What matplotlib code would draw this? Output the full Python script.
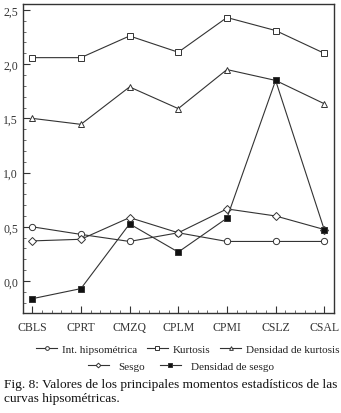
import numpy as np
import matplotlib as mpl
mpl.use("Agg")
import matplotlib.pyplot as plt
from matplotlib.ticker import MultipleLocator, FuncFormatter

mpl.rcParams["font.family"] = ["Liberation Serif", "DejaVu Serif"]

cuencas = ["CBLS", "CPRT", "CMZQ", "CPLM", "CPMI", "CSLZ", "CSAL"]
int_hipso = [0.50, 0.43, 0.365, 0.445, 0.365, 0.365, 0.365]
kurtosis = [2.06, 2.06, 2.26, 2.11, 2.43, 2.31, 2.10]
dens_kurt = [1.50, 1.445, 1.79, 1.59, 1.95, 1.85, 1.635]
sesgo = [0.37, 0.385, 0.585, 0.445, 0.665, 0.60, 0.475]
dens_sesgo = [-0.163, -0.07, 0.527, 0.267, 0.58, 1.85, 0.473]

fig = plt.figure(figsize=(3.41, 4.14), dpi=100)
ax = fig.add_axes([0.0674, 0.2415, 0.9121, 0.7465])

x = np.arange(len(cuencas))
lw = 0.8
ms = 4.5
kw = dict(color="#333333", lw=lw, ms=ms, mec="#333333", mew=0.7)
ax.plot(x, int_hipso, marker="o", mfc="white", label="Int. hipsométrica", **kw)
ax.plot(x, kurtosis, marker="s", mfc="white", label="Kurtosis", **kw)
ax.plot(x, dens_kurt, marker="^", mfc="white", label="Densidad de kurtosis", **kw)
ax.plot(x, sesgo, marker="D", mfc="white", ms=4, color="#333333", lw=lw,
        mec="#333333", mew=0.7, label="Sesgo")
ax.plot(x, dens_sesgo, marker="s", mfc="#111111", label="Densidad de sesgo", **kw)

ax.set_xlim(-0.19, 6.2)
ax.set_ylim(-0.295, 2.555)
ax.set_xticks(x)
ax.set_xticklabels(cuencas)
ax.xaxis.set_minor_locator(MultipleLocator(0.2))
ax.yaxis.set_major_locator(MultipleLocator(0.5))
ax.yaxis.set_minor_locator(MultipleLocator(0.1))
ax.yaxis.set_major_formatter(FuncFormatter(lambda v, p: f"{v:.1f}".replace(".", ",")))
ax.tick_params(which="major", direction="in", length=5, width=0.8, labelsize=8.5,
               color="#333333", labelcolor="#333333")
ax.tick_params(which="minor", direction="in", length=2.5, width=0.6, color="#555555")
ax.tick_params(axis="x", pad=6)
for s in ax.spines.values():
    s.set_linewidth(1.0)
    s.set_color("#333333")

h, l = ax.get_legend_handles_labels()
fig.legend(h[:3], l[:3], ncol=3, loc="center", bbox_to_anchor=(0.55, 0.155),
           frameon=False, fontsize=8, handlelength=1.9, handletextpad=0.4,
           columnspacing=0.9, borderpad=0, borderaxespad=0, markerscale=0.6,
           labelcolor="#222222")
fig.legend(h[3:], l[3:], ncol=2, loc="center", bbox_to_anchor=(0.53, 0.113),
           frameon=False, fontsize=8, handlelength=1.9, handletextpad=0.9,
           columnspacing=1.3, borderpad=0, borderaxespad=0, markerscale=0.6,
           labelcolor="#222222")

fig.text(0.012, 0.054, "Fig. 8: Valores de los principales momentos estadísticos de las\ncurvas hipsométricas.",
         fontsize=9.6, ha="left", va="center", linespacing=1.2, color="#111111")

fig.savefig("out.png", dpi=100)
